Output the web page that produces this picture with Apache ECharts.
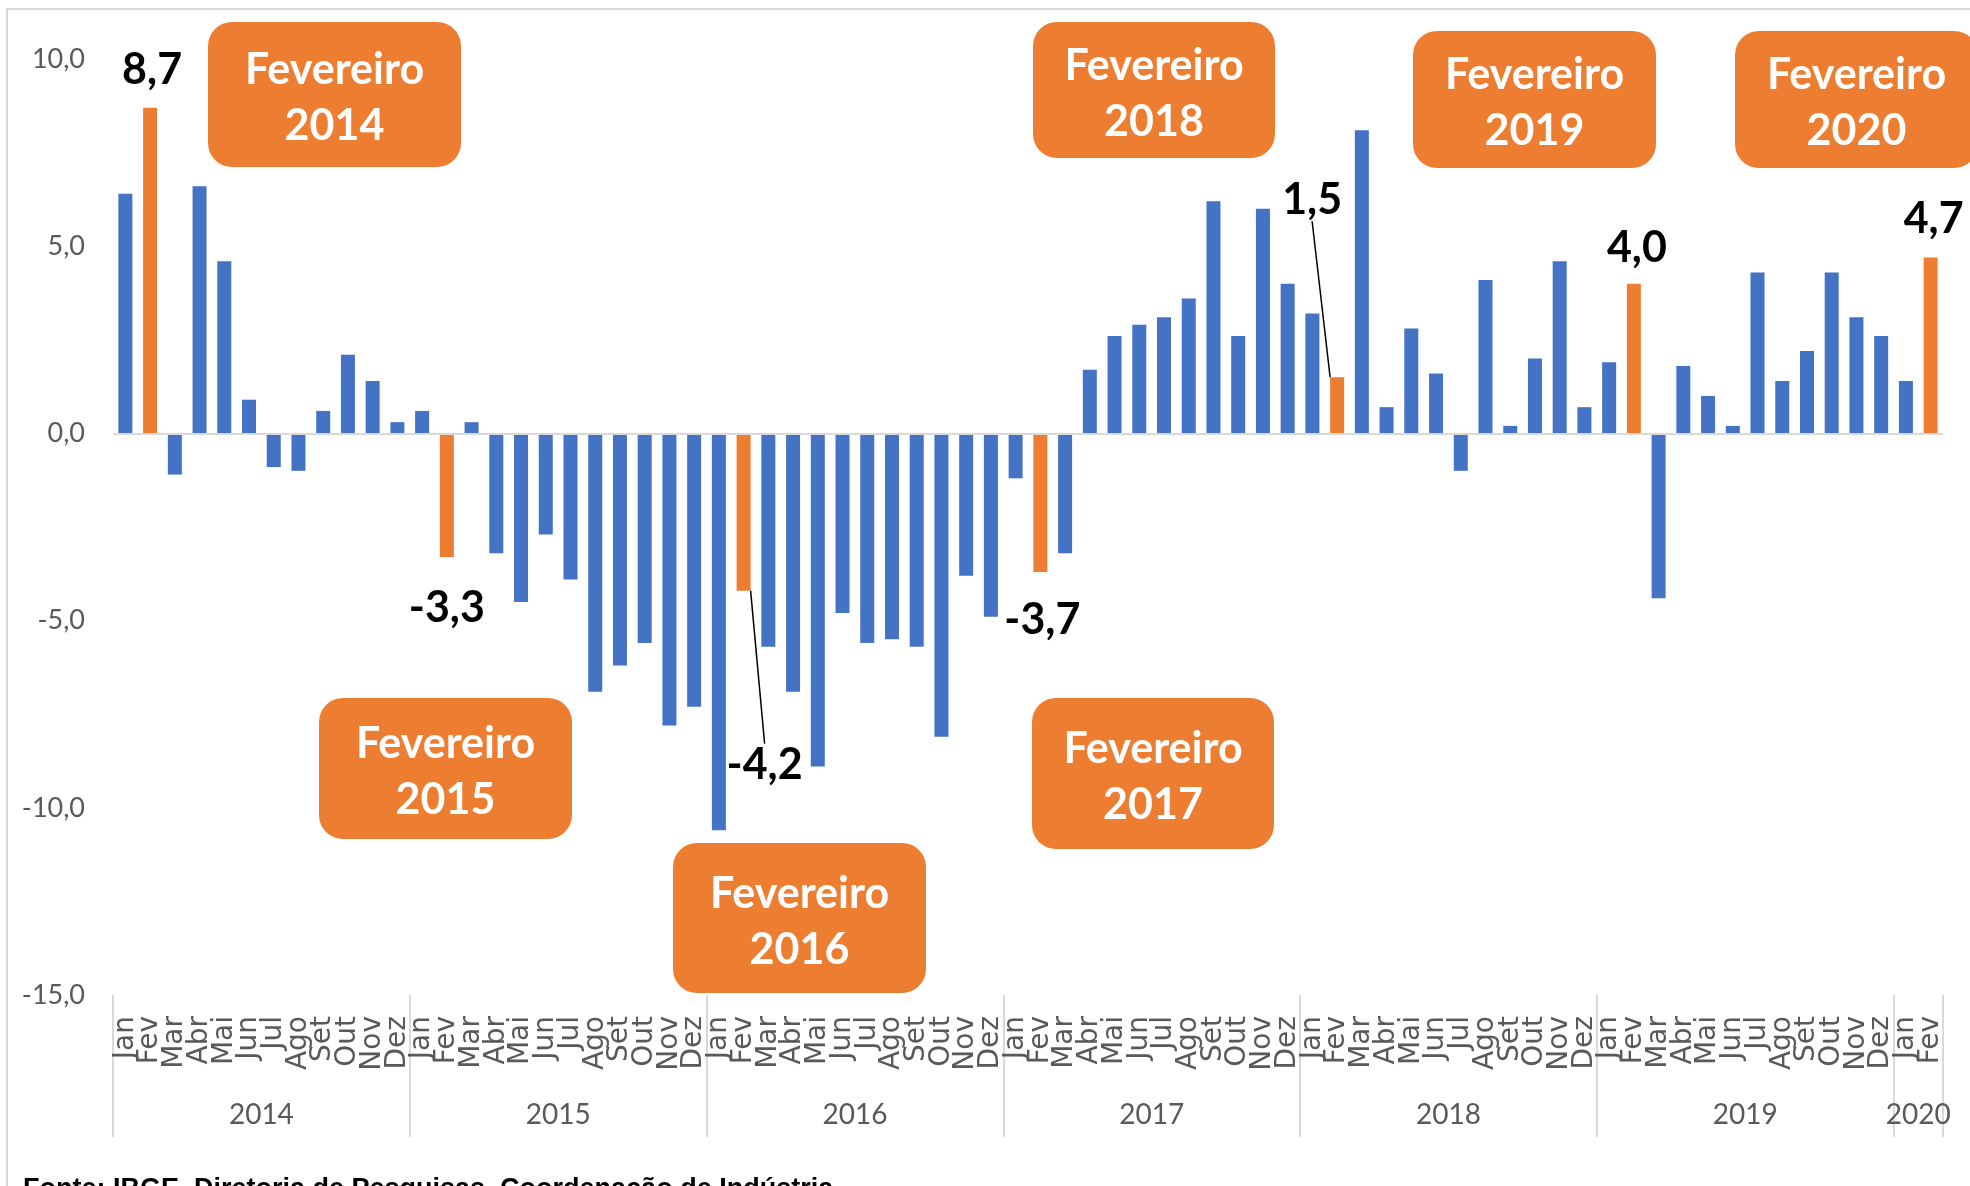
<!DOCTYPE html>
<html>
<head>
<meta charset="utf-8">
<script src="https://cdn.jsdelivr.net/npm/echarts@6/dist/echarts.min.js"></script>
<style>
  html, body { margin: 0; padding: 0; background: #fff; }
  #chart { width: 1970px; height: 1186px; }
</style>
</head>
<body>
<div id="chart"></div>
<script>
// variação mensal (%) - produção industrial
var meses = ['Jan', 'Fev', 'Mar', 'Abr', 'Mai', 'Jun', 'Jul', 'Ago', 'Set', 'Out', 'Nov', 'Dez'];
var anos = ['2014', '2015', '2016', '2017', '2018', '2019', '2020'];
var v2014 = [6.4, 8.7, -1.1, 6.6, 4.6, 0.9, -0.9, -1.0, 0.6, 2.1, 1.4, 0.3];
var v2015 = [0.6, -3.3, 0.3, -3.2, -4.5, -2.7, -3.9, -6.9, -6.2, -5.6, -7.8, -7.3];
var v2016 = [-10.6, -4.2, -5.7, -6.9, -8.9, -4.8, -5.6, -5.5, -5.7, -8.1, -3.8, -4.9];
var v2017 = [-1.2, -3.7, -3.2, 1.7, 2.6, 2.9, 3.1, 3.6, 6.2, 2.6, 6.0, 4.0];
var v2018 = [3.2, 1.5, 8.1, 0.7, 2.8, 1.6, -1.0, 4.1, 0.2, 2.0, 4.6, 0.7];
var v2019 = [1.9, 4.0, -4.4, 1.8, 1.0, 0.2, 4.3, 1.4, 2.2, 4.3, 3.1, 2.6];
var v2020 = [1.4, 4.7];
var porAno = [v2014, v2015, v2016, v2017, v2018, v2019, v2020];

var azul = '#4472C4';
var laranja = '#ED7D31';
var cinza = '#595959';

// ajuste dos rótulos de fevereiro (dx, dy) a partir da posição padrão
var ajusteRotulo = {
    '2014': [2, -11], '2015': [0, 25], '2016': [21, 148], '2017': [2, 22],
    '2018': [-25, -151], '2019': [3, -9], '2020': [3, -12]
};
// caixas "Fevereiro" [x, y, largura, altura]
var caixas = [
    ['2014', 208, 22, 253, 145],
    ['2015', 319, 698, 253, 141],
    ['2016', 673, 843, 253, 150],
    ['2017', 1032, 698, 242, 151],
    ['2018', 1033, 22, 242, 136],
    ['2019', 1413, 31, 243, 137],
    ['2020', 1735, 31, 243, 137]
];

var categorias = [];
var dados = [];
var anoDoIndice = [];
var centroAno = {};
var limites = [];
porAno.forEach(function (vals, a) {
    var inicio = categorias.length;
    limites.push(inicio);
    vals.forEach(function (v, m) {
        categorias.push(meses[m]);
        anoDoIndice.push(anos[a]);
        var item = { value: v };
        if (m === 1) {
            item.itemStyle = { color: laranja };
            item.label = { show: true };
            if (anos[a] === '2016' || anos[a] === '2018') {
                item.labelLine = { show: true };
            }
        }
        dados.push(item);
    });
    centroAno[inicio + vals.length / 2] = anos[a];
});
var total = categorias.length;
limites.push(total);

var coresDivisoria = [];
for (var k = 0; k <= total; k++) {
    coresDivisoria.push(limites.indexOf(k) >= 0 ? '#d9d9d9' : 'rgba(0,0,0,0)');
}

var graficos = [{
    type: 'rect',
    shape: { x: 7, y: 9, width: 2100, height: 1300 },
    style: { fill: 'none', stroke: '#d9d9d9', lineWidth: 2 },
    silent: true
}, {
    type: 'text',
    x: 23, y: 1176,
    style: {
        text: 'Fonte: IBGE, Diretoria de Pesquisas, Coordenação de Indústria',
        fontFamily: 'Liberation Sans', fontWeight: 'bold', fontSize: 27, fill: '#000'
    }
}];
caixas.forEach(function (c) {
    graficos.push({
        type: 'rect',
        shape: { x: c[1], y: c[2], width: c[3], height: c[4], r: 24 },
        style: { fill: laranja },
        z: 10
    });
    graficos.push({
        type: 'text',
        x: c[1] + c[3] / 2, y: c[2] + c[4] / 2 + 4,
        style: {
            text: 'Fevereiro\n' + c[0],
            fontFamily: 'Lato', fontWeight: 'bold', fontSize: 43, lineHeight: 56,
            fill: '#fff', align: 'center', verticalAlign: 'middle'
        },
        z: 11
    });
});

var myChart = echarts.init(document.getElementById('chart'));
myChart.setOption({
    animation: false,
    backgroundColor: '#fff',
    grid: [
        { left: 113, right: 27, top: 59, bottom: 191 },
        { left: 113, right: 27, top: 995, bottom: 49 }
    ],
    xAxis: [{
        type: 'category',
        gridIndex: 0,
        data: categorias,
        axisLine: { show: false },
        axisTick: { show: false },
        axisLabel: {
            interval: 0, rotate: 90, margin: 21,
            fontFamily: 'DejaVu Sans', fontSize: 28, color: cinza
        }
    }, {
        type: 'value',
        gridIndex: 1,
        min: 0, max: total, interval: 1,
        axisLine: { show: false },
        axisTick: { show: false },
        splitLine: { show: true, lineStyle: { color: coresDivisoria, width: 2 } },
        axisLabel: {
            inside: true, margin: 8,
            fontFamily: 'Lato', fontSize: 28, color: cinza,
            formatter: function (v) { return centroAno[v] || ''; }
        }
    }],
    yAxis: [{
        type: 'value',
        gridIndex: 0,
        min: -15, max: 10, interval: 5,
        axisLine: { show: false },
        axisTick: { show: false },
        splitLine: { show: false },
        axisLabel: {
            margin: 28, fontFamily: 'Lato', fontSize: 27, color: cinza,
            formatter: function (v) { return v.toFixed(1).replace('.', ','); }
        }
    }, {
        type: 'value', gridIndex: 1, show: false
    }],
    graphic: graficos,
    series: [{
        type: 'bar',
        xAxisIndex: 0, yAxisIndex: 0,
        barWidth: 14,
        itemStyle: { color: azul },
        data: dados,
        label: {
            show: false,
            position: 'outside',
            distance: 5,
            fontFamily: 'Lato', fontWeight: 'bold', fontSize: 43, color: '#000',
            formatter: function (p) { return p.value.toFixed(1).replace('.', ','); }
        },
        labelLine: { show: false, lineStyle: { color: '#000', width: 1.5 } },
        labelLayout: function (p) {
            var aj = ajusteRotulo[anoDoIndice[p.dataIndex]];
            if (!aj || categorias[p.dataIndex] !== 'Fev') return {};
            return { dx: aj[0], dy: aj[1] };
        },
        markLine: {
            silent: true,
            symbol: 'none',
            label: { show: false },
            lineStyle: { color: '#d9d9d9', width: 2, type: 'solid' },
            data: [{ yAxis: 0 }]
        },
        z: 3
    }]
});
</script>
</body>
</html>
